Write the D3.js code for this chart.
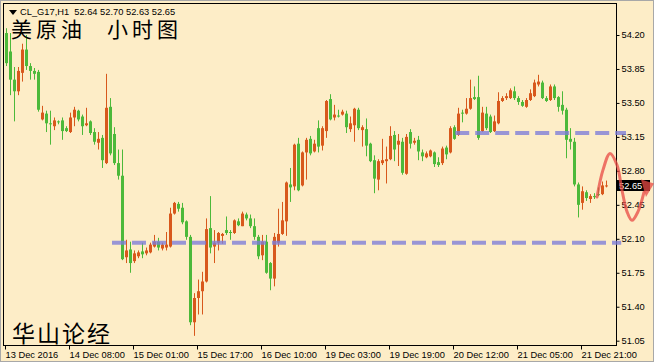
<!DOCTYPE html>
<html><head><meta charset="utf-8">
<script src="https://cdn.jsdelivr.net/npm/d3@7"></script>
<style>html,body{margin:0;padding:0;background:#fdedc7;}svg{display:block}</style>
</head><body>
<script>
// ---- data (CL_G17, H1) ----
const opens=[
54.22,54.03,53.74,53.62,53.81,54.05,53.88,53.83,53.82,53.33,
53.39,53.29,53.26,53.31,53.32,53.24,53.20,53.35,53.42,53.36,
53.27,53.31,53.20,53.09,53.14,52.88,53.46,53.18,52.88,52.75,
51.91,51.99,51.87,51.92,51.97,51.95,51.96,52.02,52.07,52.00,
52.01,52.02,52.36,52.46,52.42,52.28,52.12,51.24,51.49,51.56,
51.66,52.21,52.02,52.06,52.13,52.19,52.17,52.16,52.28,52.23,
52.35,52.31,52.23,52.12,51.93,52.07,51.85,51.69,52.06,52.15,
52.28,52.66,52.64,53.08,52.65,52.99,53.13,53.00,53.24,53.06,
53.21,53.54,53.35,53.37,53.38,53.39,53.23,53.27,53.43,53.22,
53.23,53.08,52.91,52.71,52.88,52.90,52.92,53.17,53.07,53.10,
52.77,53.20,53.09,53.12,52.99,52.94,52.95,52.99,52.89,52.88,
53.04,52.99,53.25,53.17,53.40,53.39,53.44,53.56,53.56,53.21,
53.39,53.36,53.21,53.29,53.52,53.55,53.55,53.62,53.55,53.51,
53.46,53.53,53.57,53.69,53.71,53.55,53.53,53.67,53.56,53.48,
53.43,53.13,53.10,52.66,52.47,52.58,52.51,52.54,52.56,52.56,
52.64];
const highs=[
54.27,54.22,53.87,53.87,54.11,54.20,53.91,53.86,53.84,53.47,
53.42,53.42,53.35,53.32,53.35,53.26,53.40,53.46,53.43,53.38,
53.45,53.32,53.24,53.20,53.17,53.80,53.55,53.25,53.02,53.02,
52.09,52.07,51.98,51.98,52.06,52.01,52.06,52.14,52.11,52.06,
52.17,52.42,52.48,52.48,52.47,52.29,52.14,51.54,51.68,51.76,
52.31,52.54,52.19,52.17,52.16,52.33,52.19,52.30,52.31,52.38,
52.37,52.35,52.31,52.14,52.14,52.14,51.86,52.16,52.41,52.48,
52.69,52.83,53.08,53.14,53.00,53.14,53.16,53.12,53.32,53.26,
53.53,53.59,53.48,53.43,53.43,53.42,53.36,53.45,53.45,53.27,
53.34,53.09,52.96,52.92,53.13,53.05,53.26,53.21,53.18,53.14,
53.18,53.23,53.14,53.16,53.02,53.00,53.02,53.00,52.94,53.05,
53.06,53.26,53.27,53.45,53.43,53.55,53.74,53.67,53.78,53.46,
53.46,53.38,53.37,53.61,53.57,53.60,53.65,53.67,53.57,53.53,
53.55,53.64,53.74,53.79,53.73,53.57,53.69,53.69,53.57,53.62,
53.45,53.24,53.14,52.68,52.64,52.60,52.56,52.57,52.63,52.69,
52.70];
const lows=[
53.88,53.58,53.31,53.58,53.72,53.84,53.74,53.74,53.41,53.32,
53.20,53.07,53.22,53.28,53.12,53.20,53.19,53.26,53.31,53.17,
53.26,53.17,53.07,53.02,52.83,52.87,52.96,52.86,52.71,51.88,
51.85,51.75,51.85,51.90,51.90,51.93,51.95,52.01,51.98,51.98,
51.98,52.01,52.35,52.38,52.25,52.09,51.21,51.10,51.32,51.32,
51.65,51.95,51.85,51.98,52.05,52.14,52.09,52.15,52.23,52.23,
52.29,52.21,52.09,51.89,51.88,51.74,51.57,51.61,52.02,52.14,
52.13,52.48,52.60,52.59,52.64,52.71,52.96,52.99,52.99,53.01,
53.14,53.32,53.32,53.35,53.37,53.19,53.20,53.10,53.22,53.05,
52.95,52.89,52.57,52.60,52.86,52.67,52.91,52.90,52.85,52.76,
52.76,53.03,53.07,52.91,52.90,52.93,52.94,52.84,52.84,52.86,
52.92,52.98,53.12,53.16,53.30,53.38,53.43,53.53,53.12,53.20,
53.22,53.19,53.20,53.28,53.51,53.53,53.54,53.53,53.48,53.46,
53.45,53.52,53.56,53.67,53.54,53.51,53.52,53.53,53.41,53.38,
52.93,53.02,52.64,52.32,52.40,52.49,52.47,52.51,52.54,52.55,
52.63];
const closes=[
53.91,53.74,53.62,53.83,54.05,53.88,53.83,53.80,53.43,53.40,
53.29,53.28,53.32,53.30,53.21,53.21,53.35,53.43,53.33,53.26,
53.29,53.19,53.10,53.13,52.91,53.45,52.98,52.88,52.75,51.89,
51.98,51.85,51.95,51.96,51.94,51.98,52.04,52.07,52.01,52.04,
52.04,52.36,52.47,52.41,52.27,52.12,51.24,51.49,51.56,51.66,
52.20,52.01,52.06,52.16,52.15,52.16,52.16,52.29,52.24,52.36,
52.31,52.23,52.12,51.92,52.07,51.75,51.69,52.12,52.15,52.29,
52.68,52.63,53.07,52.60,52.99,53.12,52.98,53.08,53.05,53.24,
53.52,53.33,53.38,53.36,53.41,53.25,53.29,53.44,53.24,53.25,
53.06,52.90,52.72,52.90,52.91,52.92,53.16,53.02,53.11,52.78,
53.15,53.08,53.11,53.00,52.95,52.98,53.01,52.87,52.86,53.03,
52.97,53.24,53.13,53.39,53.39,53.44,53.55,53.54,53.14,53.40,
53.24,53.20,53.31,53.52,53.55,53.57,53.63,53.55,53.51,53.47,
53.53,53.60,53.71,53.72,53.55,53.52,53.67,53.55,53.46,53.42,
53.12,53.10,52.66,52.45,52.59,52.52,52.54,52.53,52.55,52.65,
52.65];

const xTickBars=[0,16,32,48,64,80,96,112,128,144];
const xTickLabels=["13 Dec 2016","14 Dec 08:00","15 Dec 01:00","15 Dec 17:00","16 Dec 10:00",
                   "19 Dec 03:00","19 Dec 19:00","20 Dec 12:00","21 Dec 05:00","21 Dec 21:00"];
const yTicks=[54.20,53.85,53.50,53.15,52.80,52.45,52.10,51.75,51.40,51.05];

// hand-drawn annotations (bar index, price)
const levelPrices=[52.06,53.19];
const levelFrom=[26.5,112.3];
const levelTo=[153.8,155];
const curveBars=[147.75,149.25,151,152.75,154,155.25,156.5,158,159.5];
const curvePrices=[52.53,52.81,52.98,52.86,52.60,52.38,52.29,52.38,52.58];
const arrowBars=[158.75,162,160];
const arrowPrices=[52.71,52.67,52.53];

const lastPrice=52.65;
const symbolText="CL_G17,H1  52.64 52.70 52.63 52.65";
const titleCN1="美原油", titleCN2="小时图", footCN="华山论经";

// ---- drawing ----
const W=654,H=362;
const BG="#fdedc7", UP="#d8581c", DOWN="#4cb93a";
const svg=d3.select("body").append("svg").attr("width",W).attr("height",H);
svg.append("rect").attr("width",W).attr("height",H).attr("fill",BG);

const plot={l:3,t:3,r:616,b:345};
const x=d3.scaleLinear().domain([0,150]).range([6,606]);
const y=d3.scaleLinear().domain([51.05,54.20]).range([340.7,35]);

svg.append("defs").append("clipPath").attr("id","pc")
  .append("rect").attr("x",plot.l).attr("y",plot.t).attr("width",plot.r-plot.l).attr("height",plot.b-plot.t);

const g=svg.append("g").attr("clip-path","url(#pc)");

// candles
const idx=d3.range(opens.length);
const cg=g.append("g");
cg.selectAll("line.w").data(idx).join("line").attr("class","w")
  .attr("x1",i=>Math.round(x(i))+0.5).attr("x2",i=>Math.round(x(i))+0.5)
  .attr("y1",i=>y(highs[i])).attr("y2",i=>y(lows[i]))
  .attr("stroke",i=>closes[i]>opens[i]?UP:DOWN).attr("stroke-width",1);
cg.selectAll("rect.b").data(idx).join("rect").attr("class","b")
  .attr("x",i=>Math.round(x(i))-1).attr("width",3)
  .attr("y",i=>Math.min(y(opens[i]),y(closes[i])))
  .attr("height",i=>Math.max(1,Math.abs(y(opens[i])-y(closes[i]))))
  .attr("fill",i=>closes[i]>opens[i]?UP:DOWN);

// title (Chinese)
const cnFont="'Liberation Serif','Noto Sans CJK SC'";
svg.append("text").attr("x",11).attr("y",37).text(titleCN1)
  .attr("font-family",cnFont).attr("font-size",21).attr("letter-spacing",4).attr("fill","#000");
svg.append("text").attr("x",107).attr("y",37).text(titleCN2)
  .attr("font-family",cnFont).attr("font-size",21).attr("letter-spacing",4).attr("fill","#000");
svg.append("text").attr("x",12).attr("y",342).text(footCN)
  .attr("font-family",cnFont).attr("font-size",23).attr("letter-spacing",2).attr("fill","#000");

// symbol line
svg.append("path").attr("d","M9,10L17,10L13,15Z").attr("fill","#000");
svg.append("text").attr("x",20).attr("y",15).attr("xml:space","preserve").style("white-space","pre")
  .text(symbolText).attr("font-family","'Liberation Sans',Arial,sans-serif").attr("font-size",9.3).attr("fill","#000");

// frame
svg.append("rect").attr("x",plot.l+0.5).attr("y",plot.t+0.5)
  .attr("width",plot.r-plot.l).attr("height",plot.b-plot.t)
  .attr("fill","none").attr("stroke","#000");
svg.append("rect").attr("x",0.5).attr("y",0.5).attr("width",W-1).attr("height",H-1)
  .attr("fill","none").attr("stroke","#a8a8a8");

// axes
const ya=svg.append("g").attr("transform",`translate(${plot.r+0.5},0)`)
  .call(d3.axisRight(y).tickValues(yTicks).tickSize(3).tickPadding(2).tickFormat(d3.format(".2f")));
ya.select(".domain").remove();
ya.selectAll("text").attr("font-family","'Liberation Sans',Arial,sans-serif").attr("font-size",9.3).attr("fill","#000");
ya.selectAll("line").attr("stroke","#000");

const xa=svg.append("g").attr("transform",`translate(-1,${plot.b+0.5})`)
  .call(d3.axisBottom(x).tickValues(xTickBars).tickSize(4).tickPadding(2).tickFormat((d,i)=>xTickLabels[i]));
xa.select(".domain").remove();
xa.selectAll("text").attr("text-anchor","start").attr("dx",0)
  .attr("font-family","'Liberation Sans',Arial,sans-serif").attr("font-size",9.3).attr("fill","#000");
xa.selectAll("line").attr("stroke","#000");

// dashed level lines
levelPrices.forEach((p,k)=>{
  svg.append("line").attr("x1",x(levelFrom[k])).attr("x2",x(levelTo[k]))
    .attr("y1",y(p)).attr("y2",y(p))
    .attr("stroke","#7c7cd8").attr("stroke-opacity",0.78).attr("stroke-width",4)
    .attr("stroke-dasharray","14,6");
});

// last price label
const lp=y(lastPrice);
svg.append("rect").attr("x",plot.r+1).attr("y",Math.round(lp)-5).attr("width",33).attr("height",11).attr("fill","#000");
svg.append("text").attr("x",plot.r+3).attr("y",lp).attr("dy","0.35em").text(d3.format(".2f")(lastPrice))
  .attr("font-family","'Liberation Sans',Arial,sans-serif").attr("font-size",9.3).attr("fill","#fff");

// red hand-drawn curve with arrow
const curvePts=curveBars.map((b,i)=>[x(b),y(curvePrices[i])]);
svg.append("path").attr("d",d3.line().curve(d3.curveCatmullRom)(curvePts))
  .attr("fill","none").attr("stroke","#e84a44").attr("stroke-opacity",0.75)
  .attr("stroke-width",3).attr("stroke-linecap","round");
const arrowPts=arrowBars.map((b,i)=>[x(b),y(arrowPrices[i])]);
svg.append("path").attr("d",d3.line()(arrowPts)+"Z").attr("fill","#e84a44").attr("fill-opacity",0.75);
</script>
</body></html>
